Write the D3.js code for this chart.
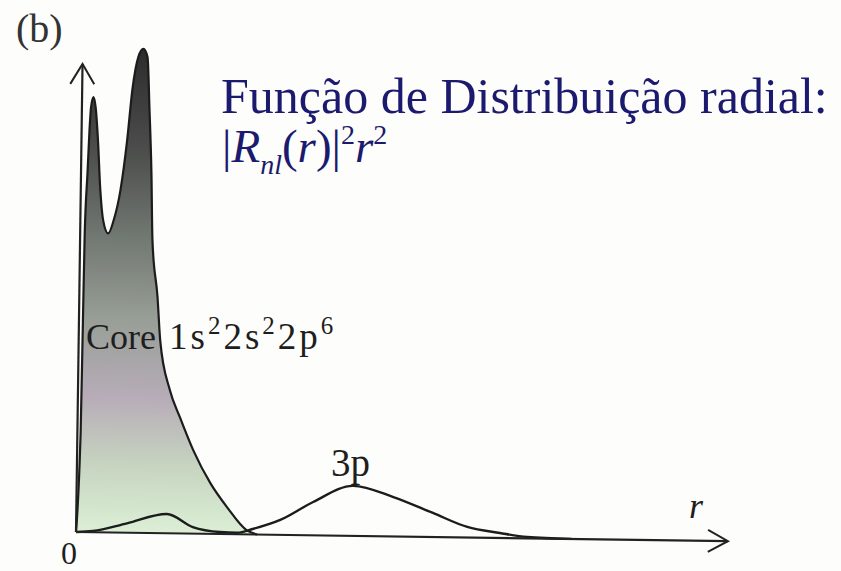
<!DOCTYPE html>
<html>
<head>
<meta charset="utf-8">
<script src="https://cdn.jsdelivr.net/npm/d3@7/dist/d3.min.js"></script>
<style>
  html, body { margin: 0; padding: 0; background: #fdfdfb; }
</style>
</head>
<body>
<div id="chart"></div>
<script>
// radial distribution |R_nl(r)|^2 r^2 (arbitrary units)
const coreR = [0, 0.05, 0.06, 0.07, 0.10, 0.12, 0.14, 0.175, 0.21, 0.25, 0.30, 0.35, 0.43, 0.51, 0.61, 0.70,
               0.77, 0.855, 0.93, 0.995, 1.035, 1.08, 1.11, 1.20, 1.25, 1.41, 1.57, 1.78, 2.05, 2.31, 2.62, 2.78];
const coreP = [0, 1.0, 2.0, 3.0, 3.6, 4.0, 4.25, 4.35, 4.25, 3.95, 3.42, 3.12, 2.99, 3.12, 3.43, 3.92,
               4.43, 4.76, 4.84, 4.76, 4.26, 3.6, 2.93, 2.36, 1.93, 1.43, 1.16, 0.835, 0.507, 0.27, 0.04, 0];

const p3R = [0, 0.26, 0.78, 1.39, 1.79, 2.21, 2.47, 2.71, 3.13, 3.63, 4.24, 4.86, 5.47, 6.0, 6.5, 6.92, 7.6];
const p3P = [0, 0.012, 0.094, 0.193, 0.066, 0.02, 0.015, 0.055, 0.149, 0.333, 0.50, 0.394, 0.24, 0.105, 0.049, 0.013, 0];

const xDomain = [0, 10];
const yDomain = [0, 5];

const width = 841, height = 571;
const svg = d3.select("#chart").append("svg")
    .attr("width", width)
    .attr("height", height)
    .style("display", "block");

svg.append("rect").attr("width", width).attr("height", height).attr("fill", "#fdfdfb");

// gradient for the core area
const defs = svg.append("defs");
const grad = defs.append("linearGradient")
    .attr("id", "coreFill")
    .attr("x1", 0).attr("y1", 0).attr("x2", 0).attr("y2", 1);
[
  [0, "#2c2c2c"], [0.2, "#4a4b4a"], [0.4, "#747a74"], [0.56, "#989f96"],
  [0.72, "#b7acb8"], [0.86, "#c6d4c0"], [1, "#dcefd6"]
].forEach(([o, c]) => grad.append("stop").attr("offset", o).attr("stop-color", c));

// plot frame: the scan is tilted a little
const g = svg.append("g").attr("transform", "translate(76,532) rotate(0.8)");

const x = d3.scaleLinear().domain(xDomain).range([0, 652]);
const y = d3.scaleLinear().domain(yDomain).range([0, -500]);

const core = coreR.map((r, i) => ({ r, p: coreP[i] }));
const p3 = p3R.map((r, i) => ({ r, p: p3P[i] }));

const area = d3.area()
    .x(d => x(d.r))
    .y0(y(0))
    .y1(d => y(d.p))
    .curve(d3.curveMonotoneX);

const line = d3.line()
    .x(d => x(d.r))
    .y(d => y(d.p))
    .curve(d3.curveMonotoneX);

g.append("path")
    .datum(core)
    .attr("d", area)
    .attr("fill", "url(#coreFill)");

g.append("path")
    .datum(core)
    .attr("d", line)
    .attr("fill", "none")
    .attr("stroke", "#1c1c1c")
    .attr("stroke-width", 2.2);

g.append("path")
    .datum(p3)
    .attr("d", line)
    .attr("fill", "none")
    .attr("stroke", "#1c1c1c")
    .attr("stroke-width", 2.4);

// axes with open arrow heads
const axisColor = "#222";
const xEnd = x(xDomain[1]);
const yEnd = -468;
g.append("line").attr("x1", 0).attr("y1", 0).attr("x2", xEnd).attr("y2", 0)
    .attr("stroke", axisColor).attr("stroke-width", 2.2);
g.append("line").attr("x1", 0).attr("y1", 0).attr("x2", 0).attr("y2", yEnd)
    .attr("stroke", axisColor).attr("stroke-width", 2.2);
g.append("path")
    .attr("d", `M${xEnd - 20},${-11}L${xEnd},0L${xEnd - 20},${11}`)
    .attr("fill", "none").attr("stroke", axisColor).attr("stroke-width", 2);
g.append("path")
    .attr("d", `M-12,${yEnd + 20}L0,${yEnd}L12,${yEnd + 20}`)
    .attr("fill", "none").attr("stroke", axisColor).attr("stroke-width", 2);

// labels
const serif = "'Liberation Serif', 'Times New Roman', serif";
const ink = "#1e1e1e";

svg.append("text").attr("x", 16).attr("y", 42)
    .attr("font-family", serif).attr("font-size", 40).attr("fill", "#333")
    .text("(b)");

svg.append("text").attr("x", 61).attr("y", 564)
    .attr("font-family", serif).attr("font-size", 32).attr("fill", ink)
    .text("0");

svg.append("text").attr("x", 689).attr("y", 518)
    .attr("font-family", serif).attr("font-size", 36).attr("font-style", "italic").attr("fill", ink)
    .text("r");

svg.append("text").attr("x", 331).attr("y", 476)
    .attr("font-family", serif).attr("font-size", 39).attr("fill", ink)
    .text("3p");

svg.append("text").attr("x", 86).attr("y", 349)
    .attr("font-family", serif).attr("font-size", 36).attr("fill", ink)
    .text("Core");

const cfg = svg.append("text").attr("x", 169).attr("y", 349)
    .attr("font-family", serif).attr("font-size", 37).attr("fill", ink)
    .attr("letter-spacing", 3);
[["1s", false], ["2", true], ["2s", false], ["2", true], ["2p", false], ["6", true]].forEach(([t, sup], i) => {
  cfg.append("tspan")
     .attr("font-size", sup ? 25 : 37)
     .attr("dy", sup ? -15 : (i === 0 ? 0 : 15))
     .text(t);
});

// title in blue
const blue = "#1b1a6e";
svg.append("text").attr("x", 221).attr("y", 113)
    .attr("font-family", serif).attr("font-size", 50).attr("fill", blue)
    .text("Função de Distribuição radial:");

const t2 = svg.append("text").attr("x", 222).attr("y", 162)
    .attr("font-family", serif).attr("font-size", 47).attr("fill", blue);
t2.append("tspan").text("|");
t2.append("tspan").attr("font-style", "italic").text("R");
t2.append("tspan").attr("font-style", "italic").attr("font-size", 28).attr("dy", 12).text("nl");
t2.append("tspan").attr("dy", -12).text("(");
t2.append("tspan").attr("font-style", "italic").text("r");
t2.append("tspan").text(")|");
t2.append("tspan").attr("font-size", 28).attr("dy", -18).text("2");
t2.append("tspan").attr("font-style", "italic").attr("dy", 18).text("r");
t2.append("tspan").attr("font-size", 28).attr("dy", -18).text("2");
</script>
</body>
</html>
